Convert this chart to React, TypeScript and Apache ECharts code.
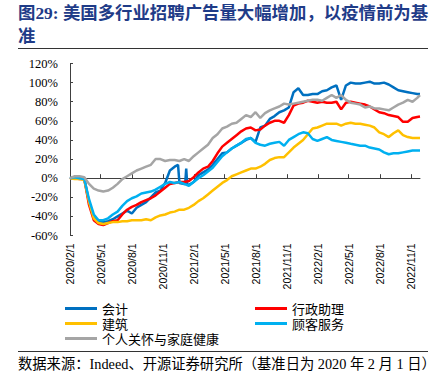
import React, { useEffect, useRef } from "react";
import * as echarts from "echarts";

// ---------- data ----------
const START = Date.UTC(2020, 1, 1);
const END_DAY = 1030; // 2022/11/27
const DAY = 86400000;

const fmt = (t: number) => {
  const d = new Date(t);
  return `${d.getUTCFullYear()}/${d.getUTCMonth() + 1}/${d.getUTCDate()}`;
};
const categories: string[] = [];
for (let i = 0; i <= END_DAY; i++) categories.push(fmt(START + i * DAY));

// sample dates: every two weeks from 2020/2/1, plus the last observation
const sampleDates: string[] = [];
for (let i = 0; i <= 73; i++) sampleDates.push(fmt(START + i * 14 * DAY));
sampleDates.push(fmt(START + END_DAY * DAY));

const tickLabels = [
  "2020/2/1", "2020/5/1", "2020/8/1", "2020/11/1",
  "2021/2/1", "2021/5/1", "2021/8/1", "2021/11/1",
  "2022/2/1", "2022/5/1", "2022/8/1", "2022/11/1",
];

const seriesNames = ["会计", "行政助理", "建筑", "顾客服务", "个人关怀与家庭健康"];

const accounting = [
  0, 1, 1, 0, -25, -40, -46, -46, -45, -43, -40, -37, -34, -37, -31, -28, -25, -20, -15, -13,
  -5, 8, 12, -5, -6, -7, -4, 3, 6, 9, 14, 20, 26, 27, 31, 34, 37, 40, 42, 38,
  53, 55, 62, 65, 69, 71, 74, 90, 94, 87, 87, 88, 88, 91, 92, 95, 97, 82, 97, 100,
  99, 99, 100, 101, 99, 99, 100, 98, 95, 92, 91, 90, 89, 88, 88,
];
const accountingExtraDates = ["2020/12/15", "2021/1/5", "2021/1/8", "2021/1/11"];
const accountingExtraValues = [14, -6, 10, -7];

const adminAssistant = [
  0, 0, -1, -1, -28, -44, -48, -49, -47, -45, -44, -38, -33, -30, -28, -25, -23, -21, -18, -14,
  -10, -6, -5, -4, -4, -3, 1, 6, 10, 12, 18, 26, 33, 37, 41, 45, 49, 52, 53, 50,
  51, 55, 58, 60, 60, 58, 66, 76, 78, 79, 81, 80, 79, 80, 79, 79, 80, 72, 79, 80,
  79, 78, 77, 75, 72, 69, 68, 66, 65, 64, 59, 59, 63, 64, 64.5,
];

const construction = [
  0, -1, -1, -2, -25, -42, -47, -48, -47, -46, -46, -45, -45, -44, -44, -44, -43, -44, -41, -39,
  -38, -36, -35, -33, -33, -31, -28, -24, -21, -17, -13, -9, -5, -2, 2, 4, 6, 8, 10, 10,
  12, 15, 19, 21, 22, 22, 27, 32, 36, 40, 46, 52, 53, 55, 57, 57, 57, 55, 57, 58,
  57, 57, 56, 55, 53, 48, 46, 43, 47, 50, 45, 43, 42, 42, 42,
];

const customerService = [
  0, 1, 0, -1, -22, -38, -44, -44, -42, -38, -35, -29, -24, -21, -19, -16, -15, -14, -12, -9,
  -6, -4, -5, -4, -6, -8, -4, 0, 3, 7, 11, 17, 23, 27, 31, 34, 37, 41, 42, 37,
  35, 34, 36, 37, 38, 34, 40, 43, 46, 48, 47, 41, 39, 41, 43, 40, 39, 38, 37, 36,
  35, 34, 34, 32, 31, 30, 27, 25, 26, 26, 27, 28, 29, 29, 29,
];

const personalCare = [
  0, 2, 2, 1, -6, -11, -13, -14, -13, -10, -6, -1, 2, 5, 8, 10, 12, 14, 20, 20,
  18, 19, 19, 18, 20, 18, 23, 27, 31, 35, 42, 46, 52, 54, 57, 58, 62, 66, 64, 69,
  63, 68, 71, 73, 75, 78, 77, 78, 79, 80, 81, 82, 82, 81, 84, 87, 84, 87, 82, 79,
  78, 77, 74, 75, 73, 73, 72, 71, 74, 77, 79, 82, 80, 84, 87,
];

const colors = ["#0070C0", "#FF0000", "#FFC000", "#00B0F0", "#A5A5A5"];

// ---------- helpers ----------
const idx = (s: string) => {
  const [y, m, d] = s.split("/").map(Number);
  return Math.round((Date.UTC(y, m - 1, d) - START) / DAY);
};
const pairs = (dates: string[], vals: number[]) =>
  dates.map((d, i) => [idx(d), vals[i]] as [number, number]);

const isTick = (_i: number, v: string) => tickLabels.indexOf(v) >= 0;

export default function App() {
  const ref = useRef<HTMLDivElement>(null);
  useEffect(() => {
    if (!ref.current) return;
    const chart = echarts.init(ref.current, undefined, { renderer: "svg" });

    const accData = pairs(sampleDates, accounting)
      .concat(pairs(accountingExtraDates, accountingExtraValues))
      .sort((a, b) => a[0] - b[0]);

    const allData = [
      accData,
      pairs(sampleDates, adminAssistant),
      pairs(sampleDates, construction),
      pairs(sampleDates, customerService),
      pairs(sampleDates, personalCare),
    ];

    const cjk = "'Noto Sans CJK SC', sans-serif";
    const legendCommon = {
      orient: "vertical",
      top: 302,
      padding: 0,
      icon: "rect",
      itemWidth: 32,
      itemHeight: 3,
      itemGap: 2,
      textStyle: { fontSize: 13, color: "#000", fontFamily: cjk },
    };
    chart.setOption({
      animation: false,
      backgroundColor: "#ffffff",
      color: colors,
      grid: { left: 70, right: 21, top: 63.5, bottom: 156.5 },
      xAxis: [
        {
          type: "category",
          data: categories,
          boundaryGap: false,
          position: "bottom",
          axisLine: { onZero: true, lineStyle: { color: "#404040", width: 1 } },
          axisTick: { show: true, inside: true, length: 4, interval: isTick, lineStyle: { color: "#404040" } },
          axisLabel: { show: false },
          splitLine: { show: false },
        },
        {
          type: "category",
          data: categories,
          boundaryGap: false,
          position: "bottom",
          axisLine: { show: false, onZero: false },
          axisTick: { show: false },
          axisLabel: {
            show: true,
            interval: isTick,
            rotate: 90,
            margin: 8,
            fontSize: 10.5,
            color: "#000",
            fontFamily: "'Liberation Sans', Arial, sans-serif",
          },
          splitLine: { show: false },
        },
      ],
      yAxis: {
        type: "value",
        min: -60,
        max: 120,
        interval: 20,
        axisLine: { show: true, onZero: false, lineStyle: { color: "#404040", width: 1 } },
        axisTick: { show: true, inside: true, length: 3, lineStyle: { color: "#404040" } },
        splitLine: { show: false },
        axisLabel: {
          formatter: "{value}%",
          fontSize: 12.5,
          margin: 12,
          color: "#000",
          fontFamily: "'Liberation Serif', 'Times New Roman', serif",
        },
      },
      legend: [
        { ...legendCommon, left: 65, data: [seriesNames[0], seriesNames[2], seriesNames[4]] },
        { ...legendCommon, left: 255, data: [seriesNames[1], seriesNames[3]] },
      ],
      series: seriesNames.map((name, i) => ({
        name,
        type: "line",
        xAxisIndex: 0,
        data: allData[i],
        showSymbol: false,
        symbol: "none",
        lineStyle: { width: 2.5, color: colors[i] },
        itemStyle: { color: colors[i] },
      })),
      graphic: [
        {
          type: "text",
          left: 18,
          top: 4,
          style: {
            text: "图29: 美国多行业招聘广告量大幅增加，以疫情前为基",
            fontSize: 17.4,
            fontWeight: "bold",
            fill: "#1F3C88",
            fontFamily: "'Liberation Serif', 'Noto Sans CJK SC', serif",
          },
        },
        {
          type: "text",
          left: 18,
          top: 26,
          style: {
            text: "准",
            fontSize: 17.4,
            fontWeight: "bold",
            fill: "#1F3C88",
            fontFamily: "'Noto Sans CJK SC', sans-serif",
          },
        },
        {
          type: "line",
          shape: { x1: 18, y1: 48.5, x2: 428, y2: 48.5 },
          style: { stroke: "#333", lineWidth: 1 },
        },
        {
          type: "line",
          shape: { x1: 18, y1: 351.5, x2: 428, y2: 351.5 },
          style: { stroke: "#333", lineWidth: 1 },
        },
        {
          type: "text",
          left: 18,
          top: 357,
          style: {
            text: "数据来源：Indeed、开源证券研究所（基准日为 2020 年 2 月 1 日）",
            fontSize: 14.3,
            fill: "#000",
            fontFamily: "'Liberation Serif', 'Noto Sans CJK SC', serif",
          },
        },
      ],
    });
    return () => chart.dispose();
  }, []);
  return (
    <div
      ref={ref}
      style={{ position: "fixed", left: 0, top: 0, width: 441, height: 392, background: "#fff" }}
    />
  );
}
